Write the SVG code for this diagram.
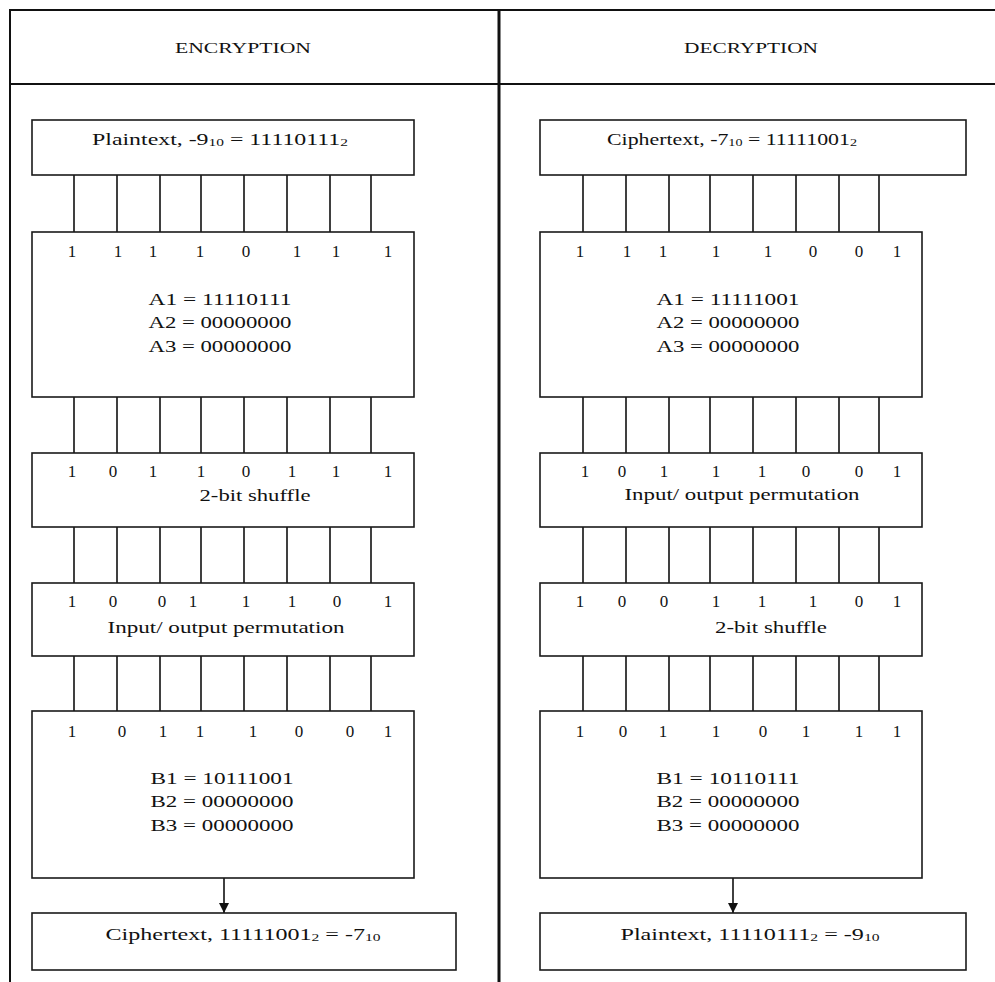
<svg xmlns="http://www.w3.org/2000/svg" width="995" height="982" viewBox="0 0 995 982">
<style>
.frame{stroke:#111;stroke-width:2;fill:none}
.div{stroke:#111;stroke-width:3;fill:none}
.box{fill:#fff;stroke:#1a1a1a;stroke-width:1.6}
.wire{stroke:#111;stroke-width:1.6;fill:none}
.t{font-family:"Liberation Serif",serif;font-size:17px;fill:#111;text-anchor:middle}
.b{font-family:"Liberation Serif",serif;font-size:17px;fill:#111;text-anchor:middle}
.h{font-family:"Liberation Serif",serif;font-size:15px;fill:#111;text-anchor:middle}
.s{font-size:11px}
</style>
<defs>
<marker id="ah" viewBox="0 0 10 10" refX="10" refY="5" markerWidth="10" markerHeight="10" markerUnits="userSpaceOnUse" orient="auto">
<path d="M0,0 L10,5 L0,10 Z" fill="#111"/>
</marker>
</defs>
<rect width="995" height="982" fill="#fff"/>
<g id="frame">
<line class="frame" x1="10" y1="10" x2="995" y2="10"/>
<line class="frame" x1="10" y1="9" x2="10" y2="982"/>
<line class="frame" x1="10" y1="84" x2="995" y2="84"/>
<line class="div" x1="499" y1="9" x2="499" y2="982"/>
</g>
<g id="hdr-enc"><text class="h" x="243" y="53" textLength="136" lengthAdjust="spacingAndGlyphs">ENCRYPTION</text></g>
<g id="hdr-dec"><text class="h" x="751" y="53" textLength="134" lengthAdjust="spacingAndGlyphs">DECRYPTION</text></g>

<g id="connectors">
<path class="wire" d="M74,175V232M117,175V232M160,175V232M201,175V232M244,175V232M287,175V232M330,175V232M371,175V232"/>
<path class="wire" d="M74,397V453M117,397V453M160,397V453M201,397V453M244,397V453M287,397V453M330,397V453M371,397V453"/>
<path class="wire" d="M74,527V583M117,527V583M160,527V583M201,527V583M244,527V583M287,527V583M330,527V583M371,527V583"/>
<path class="wire" d="M74,656V711M117,656V711M160,656V711M201,656V711M244,656V711M287,656V711M330,656V711M371,656V711"/>
<path class="wire" d="M583,175V232M626,175V232M669,175V232M710,175V232M753,175V232M796,175V232M839,175V232M879,175V232"/>
<path class="wire" d="M583,397V453M626,397V453M669,397V453M710,397V453M753,397V453M796,397V453M839,397V453M879,397V453"/>
<path class="wire" d="M583,527V583M626,527V583M669,527V583M710,527V583M753,527V583M796,527V583M839,527V583M879,527V583"/>
<path class="wire" d="M583,656V711M626,656V711M669,656V711M710,656V711M753,656V711M796,656V711M839,656V711M879,656V711"/>
<line class="wire" x1="224" y1="878" x2="224" y2="913" marker-end="url(#ah)"/>
<line class="wire" x1="733" y1="878" x2="733" y2="913" marker-end="url(#ah)"/>
</g>

<g id="enc-plain">
<rect class="box" x="32" y="120" width="382" height="55"/>
<text class="t" x="220" y="145" textLength="256" lengthAdjust="spacingAndGlyphs">Plaintext, -9<tspan class="s" dy="1">10</tspan><tspan dy="-1"> = 11110111</tspan><tspan class="s" dy="1">2</tspan></text>
</g>
<g id="enc-a">
<rect class="box" x="32" y="232" width="382" height="165"/>
<text class="b" y="257"><tspan x="72">1</tspan><tspan x="118">1</tspan><tspan x="153">1</tspan><tspan x="200">1</tspan><tspan x="246">0</tspan><tspan x="297">1</tspan><tspan x="336">1</tspan><tspan x="388">1</tspan></text>
<text class="t" x="220" y="305" textLength="143" lengthAdjust="spacingAndGlyphs">A1 = 11110111</text>
<text class="t" x="220" y="328" textLength="143" lengthAdjust="spacingAndGlyphs">A2 = 00000000</text>
<text class="t" x="220" y="352" textLength="143" lengthAdjust="spacingAndGlyphs">A3 = 00000000</text>
</g>
<g id="enc-shuffle">
<rect class="box" x="32" y="453" width="382" height="74"/>
<text class="b" y="477"><tspan x="72">1</tspan><tspan x="113">0</tspan><tspan x="153">1</tspan><tspan x="201">1</tspan><tspan x="246">0</tspan><tspan x="292">1</tspan><tspan x="336">1</tspan><tspan x="388">1</tspan></text>
<text class="t" x="255" y="501" textLength="111" lengthAdjust="spacingAndGlyphs">2-bit shuffle</text>
</g>
<g id="enc-perm">
<rect class="box" x="32" y="583" width="382" height="73"/>
<text class="b" y="607"><tspan x="72">1</tspan><tspan x="113">0</tspan><tspan x="162">0</tspan><tspan x="193">1</tspan><tspan x="246">1</tspan><tspan x="292">1</tspan><tspan x="337">0</tspan><tspan x="388">1</tspan></text>
<text class="t" x="226" y="633" textLength="237" lengthAdjust="spacingAndGlyphs">Input/ output permutation</text>
</g>
<g id="enc-b">
<rect class="box" x="32" y="711" width="382" height="167"/>
<text class="b" y="737"><tspan x="72">1</tspan><tspan x="122">0</tspan><tspan x="163">1</tspan><tspan x="200">1</tspan><tspan x="253">1</tspan><tspan x="299">0</tspan><tspan x="350">0</tspan><tspan x="388">1</tspan></text>
<text class="t" x="222" y="784" textLength="143" lengthAdjust="spacingAndGlyphs">B1 = 10111001</text>
<text class="t" x="222" y="807" textLength="143" lengthAdjust="spacingAndGlyphs">B2 = 00000000</text>
<text class="t" x="222" y="831" textLength="143" lengthAdjust="spacingAndGlyphs">B3 = 00000000</text>
</g>
<g id="enc-cipher">
<rect class="box" x="32" y="913" width="424" height="57"/>
<text class="t" x="243" y="940" textLength="275" lengthAdjust="spacingAndGlyphs">Ciphertext, 11111001<tspan class="s" dy="1">2</tspan><tspan dy="-1"> = -7</tspan><tspan class="s" dy="1">10</tspan></text>
</g>

<g id="dec-cipher">
<rect class="box" x="540" y="120" width="426" height="55"/>
<text class="t" x="732" y="145" textLength="250" lengthAdjust="spacingAndGlyphs">Ciphertext, -7<tspan class="s" dy="1">10</tspan><tspan dy="-1"> = 11111001</tspan><tspan class="s" dy="1">2</tspan></text>
</g>
<g id="dec-a">
<rect class="box" x="540" y="232" width="382" height="165"/>
<text class="b" y="257"><tspan x="580">1</tspan><tspan x="627">1</tspan><tspan x="663">1</tspan><tspan x="716">1</tspan><tspan x="768">1</tspan><tspan x="813">0</tspan><tspan x="859">0</tspan><tspan x="897">1</tspan></text>
<text class="t" x="728" y="305" textLength="143" lengthAdjust="spacingAndGlyphs">A1 = 11111001</text>
<text class="t" x="728" y="328" textLength="143" lengthAdjust="spacingAndGlyphs">A2 = 00000000</text>
<text class="t" x="728" y="352" textLength="143" lengthAdjust="spacingAndGlyphs">A3 = 00000000</text>
</g>
<g id="dec-perm">
<rect class="box" x="540" y="453" width="382" height="74"/>
<text class="b" y="477"><tspan x="585">1</tspan><tspan x="622">0</tspan><tspan x="664">1</tspan><tspan x="716">1</tspan><tspan x="762">1</tspan><tspan x="806">0</tspan><tspan x="859">0</tspan><tspan x="897">1</tspan></text>
<text class="t" x="742" y="500" textLength="235" lengthAdjust="spacingAndGlyphs">Input/ output permutation</text>
</g>
<g id="dec-shuffle">
<rect class="box" x="540" y="583" width="382" height="73"/>
<text class="b" y="607"><tspan x="580">1</tspan><tspan x="622">0</tspan><tspan x="664">0</tspan><tspan x="716">1</tspan><tspan x="762">1</tspan><tspan x="813">1</tspan><tspan x="859">0</tspan><tspan x="897">1</tspan></text>
<text class="t" x="771" y="633" textLength="112" lengthAdjust="spacingAndGlyphs">2-bit shuffle</text>
</g>
<g id="dec-b">
<rect class="box" x="540" y="711" width="382" height="167"/>
<text class="b" y="737"><tspan x="580">1</tspan><tspan x="623">0</tspan><tspan x="663">1</tspan><tspan x="716">1</tspan><tspan x="763">0</tspan><tspan x="806">1</tspan><tspan x="859">1</tspan><tspan x="897">1</tspan></text>
<text class="t" x="728" y="784" textLength="143" lengthAdjust="spacingAndGlyphs">B1 = 10110111</text>
<text class="t" x="728" y="807" textLength="143" lengthAdjust="spacingAndGlyphs">B2 = 00000000</text>
<text class="t" x="728" y="831" textLength="143" lengthAdjust="spacingAndGlyphs">B3 = 00000000</text>
</g>
<g id="dec-plain">
<rect class="box" x="540" y="913" width="426" height="57"/>
<text class="t" x="750" y="940" textLength="259" lengthAdjust="spacingAndGlyphs">Plaintext, 11110111<tspan class="s" dy="1">2</tspan><tspan dy="-1"> = -9</tspan><tspan class="s" dy="1">10</tspan></text>
</g>
</svg>
